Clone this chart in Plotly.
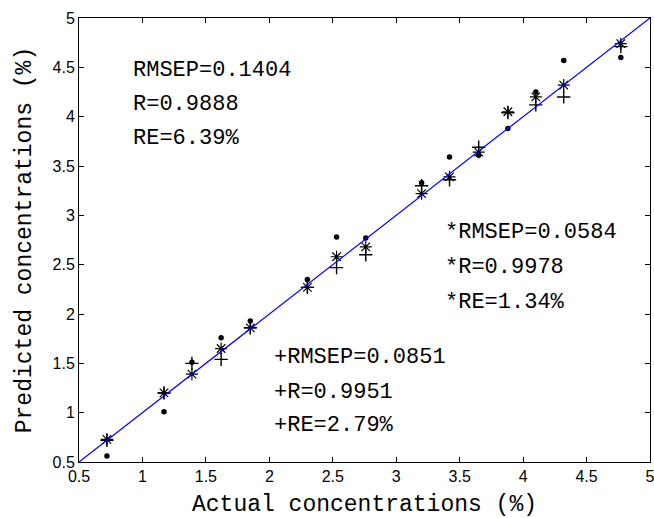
import plotly.graph_objects as go

actual = [0.72, 1.17, 1.39, 1.62, 1.85, 2.30, 2.53, 2.76, 3.20, 3.42, 3.65, 3.88, 4.10, 4.32, 4.77]
pred_dot = [0.56, 1.01, 1.51, 1.76, 1.93, 2.35, 2.78, 2.77, 3.33, 3.59, 3.61, 3.88, 4.25, 4.57, 4.60]
pred_plus = [0.72, 1.20, 1.50, 1.54, 1.86, 2.27, 2.47, 2.60, 3.30, 3.36, 3.69, 4.04, 4.12, 4.20, 4.71]
pred_star = [0.73, 1.20, 1.39, 1.65, 1.86, 2.27, 2.58, 2.68, 3.22, 3.39, 3.64, 4.05, 4.20, 4.32, 4.74]
fit_line = [0.5, 5.0]
tick_vals = [0.5, 1, 1.5, 2, 2.5, 3, 3.5, 4, 4.5, 5]
tick_text = ["0.5", "1", "1.5", "2", "2.5", "3", "3.5", "4", "4.5", "5"]

dot_stats = ["RMSEP=0.1404", "R=0.9888", "RE=6.39%"]
star_stats = ["*RMSEP=0.0584", "*R=0.9978", "*RE=1.34%"]
plus_stats = ["+RMSEP=0.0851", "+R=0.9951", "+RE=2.79%"]

fig = go.Figure()
fig.add_trace(go.Scatter(x=actual, y=pred_dot, mode="markers",
                         marker=dict(symbol="circle", size=5.5, color="black"), showlegend=False))
fig.add_trace(go.Scatter(x=actual, y=pred_plus, mode="markers",
                         marker=dict(symbol="cross-thin", size=9.5, color="black",
                                     line=dict(color="black", width=1.4)), showlegend=False))
fig.add_trace(go.Scatter(x=actual, y=pred_star, mode="markers",
                         marker=dict(symbol="asterisk", size=10, color="black",
                                     line=dict(color="black", width=1.2)), showlegend=False))
fig.add_trace(go.Scatter(x=fit_line, y=fit_line, mode="lines",
                         line=dict(color="#0000ff", width=1.2), showlegend=False))

font_txt = dict(family="Liberation Mono, monospace", size=22, color="black")
for t, yp in zip(dot_stats, [4.47, 4.12, 3.78]):
    fig.add_annotation(x=0.91, y=yp, text=t, showarrow=False, xanchor="left", yanchor="middle", font=font_txt)
for t, yp in zip(star_stats, [2.83, 2.47, 2.12]):
    fig.add_annotation(x=3.37, y=yp, text=t, showarrow=False, xanchor="left", yanchor="middle", font=font_txt)
for t, yp in zip(plus_stats, [1.56, 1.20, 0.87]):
    fig.add_annotation(x=2.02, y=yp, text=t, showarrow=False, xanchor="left", yanchor="middle", font=font_txt)

axis_common = dict(
    range=[0.5, 5], tickmode="array", tickvals=tick_vals, ticktext=tick_text,
    showgrid=False, zeroline=False, showline=True, linecolor="black", linewidth=1,
    mirror="ticks", ticks="inside", ticklen=5, tickcolor="black", tickwidth=1,
    ticklabeloverflow="allow",
    tickfont=dict(family="Liberation Sans, Arial", size=16, color="black"),
)
fig.update_xaxes(**axis_common,
                 title=dict(text="Actual concentrations (%)", standoff=12,
                            font=dict(family="Liberation Mono, monospace", size=23, color="black")))
fig.update_yaxes(**axis_common,
                 title=dict(text="Predicted concentrations (%)", standoff=14,
                            font=dict(family="Liberation Mono, monospace", size=23, color="black")))
fig.update_layout(width=654, height=518, margin=dict(l=79, r=4, t=18, b=56, autoexpand=False),
                  plot_bgcolor="white", paper_bgcolor="white")
fig.write_html("out.html", config={"displayModeBar": False},
               post_script="document.body.style.margin='0';")
